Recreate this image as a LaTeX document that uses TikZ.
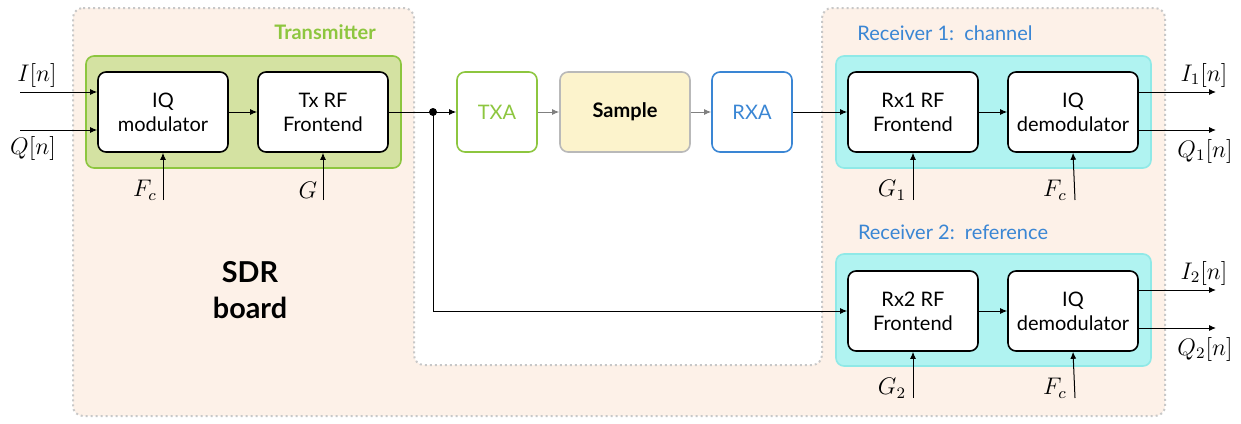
\documentclass[tikz,border=0pt]{standalone}
\usepackage{fontspec}
\setmainfont{Lato}
\usetikzlibrary{arrows.meta,positioning}

\definecolor{boardbg}{HTML}{FDF1E8}
\definecolor{boardedge}{HTML}{C8C8C8}
\definecolor{txgreen}{HTML}{8DC63F}
\definecolor{txfill}{HTML}{D4E2A2}
\definecolor{rxblue}{HTML}{3A86D4}
\definecolor{rxfill}{HTML}{B0F3F1}
\definecolor{rxedge}{HTML}{8FE9E7}
\definecolor{samplefill}{HTML}{FCF3CC}

\tikzset{
	block/.style={draw, fill=white, rounded corners=4pt, line width=0.8pt,
		minimum width=65pt, minimum height=40pt, align=center},
	antblock/.style={block, minimum width=40pt},
	group/.style={rounded corners=4pt, line width=0.8pt},
	sig/.style={-{Latex[length=3.5pt,width=3pt]}, line width=0.5pt},
	mathlabel/.style={font=\large},
}

\begin{document}
\begin{tikzpicture}[x=0.5pt, y=-0.5pt]
	\useasboundingbox (0,0) rectangle (1241,423);
	% SDR board
	\filldraw[fill=boardbg, draw=boardedge, line width=1pt, dash pattern=on 1pt off 1.5pt, rounded corners=5pt]
		(73,8) -- (414,8) -- (414,365) -- (822,365) -- (822,8) -- (1165,8) -- (1165,416) -- (73,416) -- cycle;
	\node[font=\Large\bfseries, align=center] (board) at (250,290) {SDR\\board};

	% group boxes
	\filldraw[group, fill=txfill, draw=txgreen] (86,56) rectangle (401,168);
	\filldraw[group, fill=rxfill, draw=rxedge] (836,56) rectangle (1151,168);
	\filldraw[group, fill=rxfill, draw=rxedge] (836,254) rectangle (1151,366);
	\node[font=\bfseries, text=txgreen] (txlabel) at (325,32) {Transmitter};
	\node[text=rxblue] (rx1label) at (945,33) {Receiver 1:\, channel};
	\node[text=rxblue] (rx2label) at (953,232) {Receiver 2:\, reference};

	% blocks
	\node[block] (mod) at (163,112) {IQ\\modulator};
	\node[block] (txrf) at (323,112) {Tx RF\\Frontend};
	\node[antblock, draw=txgreen, text=txgreen] (txa) at (497,112) {TXA};
	\node[block, draw=gray!55, fill=samplefill, font=\bfseries] (sample) at (625,112) {Sample};
	\node[antblock, draw=rxblue, text=rxblue] (rxa) at (752,112) {RXA};
	\node[block] (rx1rf) at (913,112) {Rx1 RF\\Frontend};
	\node[block] (dem1) at (1073,112) {IQ\\demodulator};
	\node[block] (rx2rf) at (913,311) {Rx2 RF\\Frontend};
	\node[block] (dem2) at (1073,311) {IQ\\demodulator};

	% transmitter inputs
	\coordinate (iin) at (20,92);
	\coordinate (qin) at (20,130);
	\draw[sig] (iin) -- (mod.west |- iin);
	\draw[sig] (qin) -- (mod.west |- qin);
	\node[mathlabel] (ilabel) at (37,75) {$I[n]$};
	\node[mathlabel] (qlabel) at (33,148) {$Q[n]$};
	\coordinate (fctx) at (163,200);
	\coordinate (gtx) at (323,200);
	\draw[sig] (fctx) -- (mod.south);
	\draw[sig] (gtx) -- (txrf.south);
	\node[mathlabel] (fclabel) at (145,190) {$F_c$};
	\node[mathlabel] (glabel) at (308,190) {$G$};

	% chain
	\draw[sig] (mod) -- (txrf);
	\coordinate (split) at (433,112);
	\draw (txrf.east) -- (split);
	\draw[sig] (split) -- (txa.west);
	\fill (split) circle[radius=2pt];
	\draw[sig, gray] (txa) -- (sample);
	\draw[sig, gray] (sample) -- (rxa);
	\draw[sig] (rxa) -- (rx1rf);
	\draw[sig] (split) |- (rx2rf.west);
	\draw[sig] (rx1rf) -- (dem1);
	\draw[sig] (rx2rf) -- (dem2);

	% receiver 1
	\coordinate (i1out) at (1216,92);
	\coordinate (q1out) at (1216,130);
	\draw[sig] (dem1.east |- i1out) -- (i1out);
	\draw[sig] (dem1.east |- q1out) -- (q1out);
	\node[mathlabel] (i1label) at (1204,75) {$I_1[n]$};
	\node[mathlabel] (q1label) at (1205,151) {$Q_1[n]$};
	\coordinate (g1) at (913,200);
	\coordinate (fc1) at (1075,200);
	\draw[sig] (g1) -- (rx1rf.south);
	\draw[sig] (fc1) -- (dem1.south);
	\node[mathlabel] (g1label) at (892,190) {$G_1$};
	\node[mathlabel] (fc1label) at (1055,190) {$F_c$};

	% receiver 2
	\coordinate (i2out) at (1216,290);
	\coordinate (q2out) at (1216,328);
	\draw[sig] (dem2.east |- i2out) -- (i2out);
	\draw[sig] (dem2.east |- q2out) -- (q2out);
	\node[mathlabel] (i2label) at (1204,273) {$I_2[n]$};
	\node[mathlabel] (q2label) at (1205,349) {$Q_2[n]$};
	\coordinate (g2) at (913,398);
	\coordinate (fc2) at (1075,398);
	\draw[sig] (g2) -- (rx2rf.south);
	\draw[sig] (fc2) -- (dem2.south);
	\node[mathlabel] (g2label) at (892,388) {$G_2$};
	\node[mathlabel] (fc2label) at (1055,388) {$F_c$};
\end{tikzpicture}
\end{document}
